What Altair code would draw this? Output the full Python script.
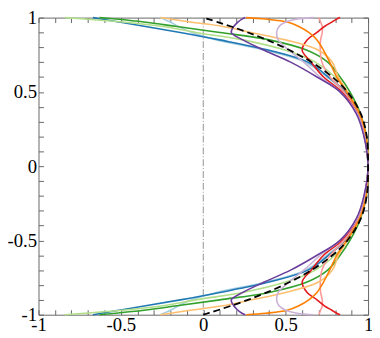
import altair as alt
import pandas as pd

# common y positions (wall to wall)
y_grid = [-1, -0.99, -0.97, -0.94, -0.9, -0.85, -0.78, -0.7, -0.6, -0.5, -0.35, -0.2, 0,
          0.2, 0.35, 0.5, 0.6, 0.7, 0.78, 0.85, 0.9, 0.94, 0.97, 0.99, 1]

series_names = ["light blue", "blue", "light green", "green", "pink", "red",
                "light orange", "orange", "light purple", "purple"]
series_colors = ["#a6cee3", "#1f78b4", "#b2df8a", "#33a02c", "#fb9a99", "#e31a1c",
                 "#fdbf6f", "#ff7f00", "#cab2d6", "#6a3d9a"]

x_light_blue = [-0.26, -0.24, -0.20, -0.15, -0.07, 0.08, 0.38, 0.62, 0.75, 0.855, 0.943, 0.982, 1,
                0.982, 0.943, 0.855, 0.75, 0.62, 0.38, 0.08, -0.07, -0.15, -0.20, -0.24, -0.26]
x_blue = [-0.67, -0.62, -0.51, -0.35, -0.14, 0.10, 0.40, 0.635, 0.76, 0.86, 0.945, 0.983, 1,
          0.983, 0.945, 0.86, 0.76, 0.635, 0.40, 0.10, -0.14, -0.35, -0.51, -0.62, -0.67]
x_light_green = [-0.84, -0.72, -0.49, -0.245, -0.045, 0.24, 0.50, 0.68, 0.80, 0.875, 0.95, 0.985, 1,
                 0.985, 0.95, 0.875, 0.80, 0.68, 0.50, 0.24, -0.045, -0.245, -0.49, -0.72, -0.84]
x_green = [-0.63, -0.53, -0.36, -0.16, 0.10, 0.40, 0.63, 0.755, 0.83, 0.89, 0.955, 0.99, 1,
           0.99, 0.955, 0.89, 0.83, 0.755, 0.63, 0.40, 0.10, -0.16, -0.36, -0.53, -0.63]
x_pink = [0.70, 0.705, 0.712, 0.722, 0.722, 0.712, 0.71, 0.72, 0.77, 0.855, 0.94, 0.98, 1,
          0.98, 0.94, 0.855, 0.77, 0.72, 0.71, 0.712, 0.722, 0.722, 0.712, 0.705, 0.70]
x_red = [0.83, 0.81, 0.78, 0.735, 0.69, 0.63, 0.60, 0.655, 0.73, 0.84, 0.935, 0.978, 1,
         0.978, 0.935, 0.84, 0.73, 0.655, 0.60, 0.63, 0.69, 0.735, 0.78, 0.81, 0.83]
x_light_orange = [-0.26, -0.20, -0.08, 0.12, 0.29, 0.50, 0.70, 0.783, 0.82, 0.875, 0.95, 0.988, 1,
                  0.988, 0.95, 0.875, 0.82, 0.783, 0.70, 0.50, 0.29, 0.12, -0.08, -0.20, -0.26]
x_orange = [0.26, 0.38, 0.51, 0.58, 0.64, 0.69, 0.73, 0.767, 0.81, 0.87, 0.95, 0.988, 1,
            0.988, 0.95, 0.87, 0.81, 0.767, 0.73, 0.69, 0.64, 0.58, 0.51, 0.38, 0.26]
x_light_purple = [0.67, 0.57, 0.50, 0.46, 0.445, 0.455, 0.52, 0.61, 0.71, 0.83, 0.935, 0.978, 1,
                  0.978, 0.935, 0.83, 0.71, 0.61, 0.52, 0.455, 0.445, 0.46, 0.50, 0.57, 0.67]
x_purple = [0.255, 0.235, 0.21, 0.185, 0.17, 0.24, 0.37, 0.53, 0.69, 0.83, 0.93, 0.975, 1,
            0.975, 0.93, 0.83, 0.69, 0.53, 0.37, 0.24, 0.17, 0.185, 0.21, 0.235, 0.255]
x_reference = [0, 0.03, 0.087, 0.169, 0.271, 0.386, 0.525, 0.657, 0.784, 0.875, 0.957, 0.992, 1,
               0.992, 0.957, 0.875, 0.784, 0.657, 0.525, 0.386, 0.271, 0.169, 0.087, 0.03, 0]

tick_values = [-1, -0.9, -0.8, -0.7, -0.6, -0.5, -0.4, -0.3, -0.2, -0.1, 0,
               0.1, 0.2, 0.3, 0.4, 0.5, 0.6, 0.7, 0.8, 0.9, 1]

all_x = [x_light_blue, x_blue, x_light_green, x_green, x_pink, x_red,
         x_light_orange, x_orange, x_light_purple, x_purple]

rows = []
for name, xs in zip(series_names, all_x):
    for i, (yv, xv) in enumerate(zip(y_grid, xs)):
        rows.append({"series": name, "x": xv, "y": yv, "k": i})
df = pd.DataFrame(rows)
ref_df = pd.DataFrame({"x": x_reference, "y": y_grid, "k": list(range(len(y_grid)))})
zero_df = pd.DataFrame({"x": [0]})

label_expr = ("abs(datum.value*2 - round(datum.value*2)) < 0.001 ? "
              "(datum.value < 0 ? '-' : '') + format(abs(datum.value), '~g') : ''")

FONT = "Times New Roman"
common_axis = dict(values=tick_values, tickSize=5, offset=-5, domain=False, grid=False,
                   tickColor="#666", tickWidth=1, labelOverlap=False, labelFlush=False,
                   labelBound=False, title=None, labelFont=FONT, labelFontSize=19,
                   labelColor="black")

xscale = alt.Scale(domain=[-1, 1], nice=False, zero=False)
yscale = alt.Scale(domain=[-1, 1], nice=False, zero=False)

curves = alt.Chart(df).mark_line(interpolate="catmull-rom", strokeWidth=1.6).encode(
    x=alt.X("x:Q", scale=xscale,
            axis=alt.Axis(orient="bottom", labelExpr=label_expr, labelPadding=1, **common_axis)),
    y=alt.Y("y:Q", scale=yscale,
            axis=alt.Axis(orient="left", labelExpr=label_expr, labelPadding=2, **common_axis)),
    color=alt.Color("series:N", scale=alt.Scale(domain=series_names, range=series_colors),
                    legend=None),
    order="k:Q",
)

zero_line = alt.Chart(zero_df).mark_rule(color="#777", strokeWidth=0.8,
                                         strokeDash=[7, 2, 1, 2]).encode(
    x=alt.X("x:Q", scale=xscale, axis=None),
)

reference = alt.Chart(ref_df).mark_line(interpolate="catmull-rom", color="black",
                                        strokeWidth=1.8, strokeDash=[7, 4]).encode(
    x=alt.X("x:Q", scale=xscale, axis=alt.Axis(orient="top", labels=False, **common_axis)),
    y=alt.Y("y:Q", scale=yscale, axis=alt.Axis(orient="right", labels=False, **common_axis)),
    order="k:Q",
)

chart = alt.layer(zero_line, curves, reference).resolve_axis(
    x="independent", y="independent"
).properties(
    width=335, height=302,
    autosize=alt.AutoSizeParams(type="none"),
    padding={"left": 31, "top": 7, "right": 4, "bottom": 26},
).configure(
    font=FONT
).configure_view(
    stroke="#666", strokeWidth=1
)

chart.save("out.html", embed_options={"renderer": "svg", "actions": False})
